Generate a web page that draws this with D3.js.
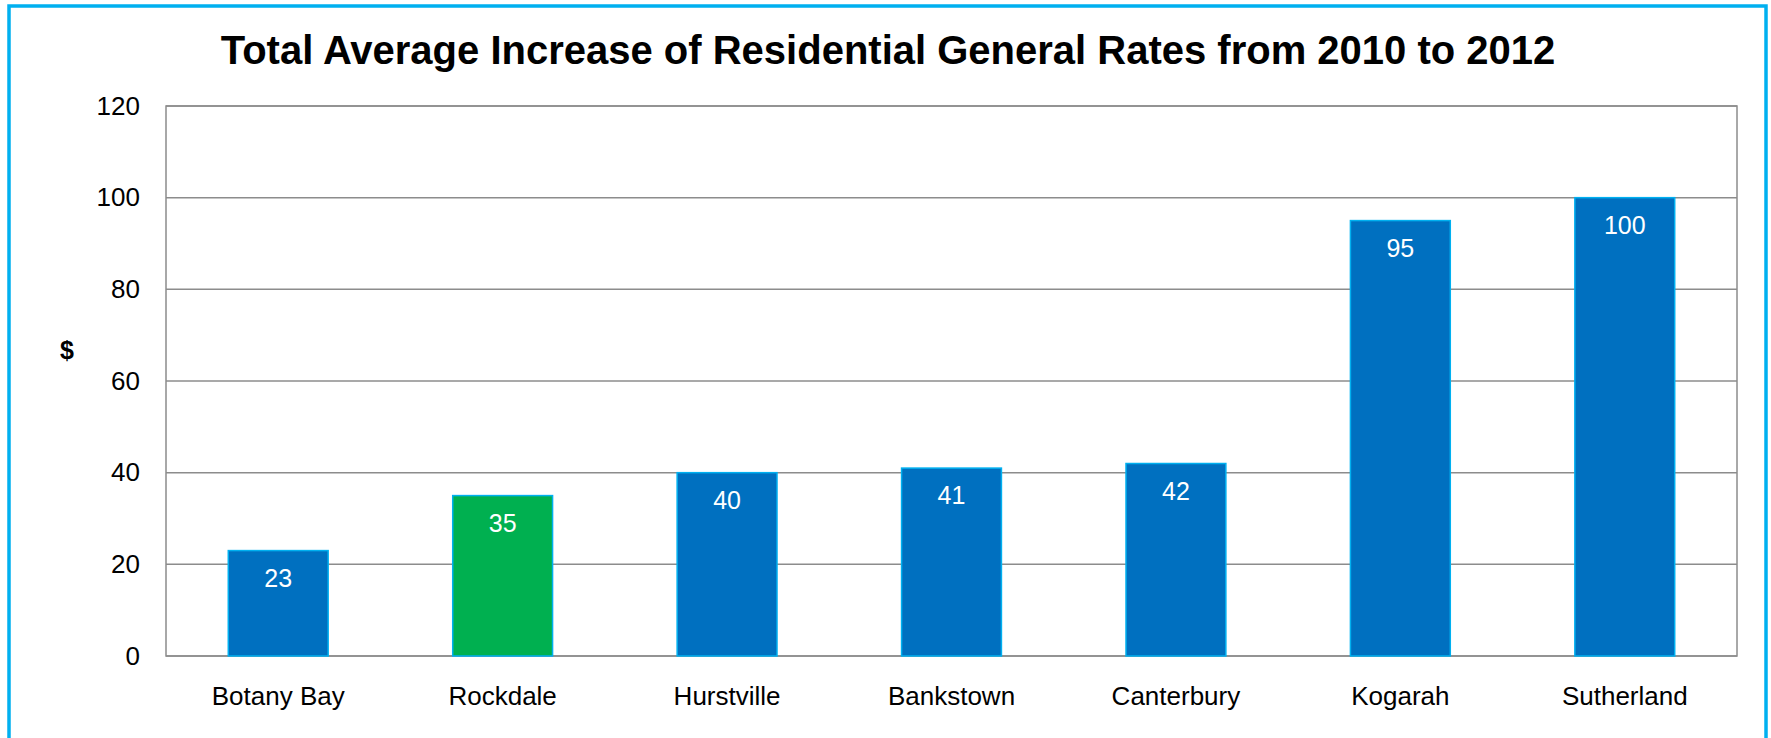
<!DOCTYPE html>
<html>
<head>
<meta charset="utf-8">
<script src="https://cdn.jsdelivr.net/npm/d3@7"></script>
<style>
  body { margin: 0; background: #fff; }
  svg { display: block; font-family: "Liberation Sans", Arial, sans-serif; }
</style>
</head>
<body>
<div id="chart"></div>
<script>
// chart data
var councils = ["Botany Bay", "Rockdale", "Hurstville", "Bankstown", "Canterbury", "Kogarah", "Sutherland"];
var increase = [23, 35, 40, 41, 42, 95, 100];
var highlight = "Rockdale";
var yTicks = [0, 20, 40, 60, 80, 100, 120];

var W = 1771, H = 738;
// plot area edges (note: "top" is reserved on window, so prefix them)
var plotLeft = 166, plotRight = 1737, plotTop = 106, plotBottom = 656;

var svg = d3.select("#chart").append("svg")
  .attr("width", W).attr("height", H);

// outer blue frame
svg.append("rect")
  .attr("x", 9).attr("y", 6)
  .attr("width", 1757).attr("height", 745)
  .attr("fill", "none").attr("stroke", "#00b0f0").attr("stroke-width", 3.5);

svg.append("text")
  .attr("x", 888).attr("y", 64)
  .attr("text-anchor", "middle")
  .attr("font-size", 40).attr("font-weight", "bold")
  .text("Total Average Increase of Residential General Rates from 2010 to 2012");

var x = d3.scaleBand().domain(councils).range([plotLeft, plotRight]).paddingInner(0.555).paddingOuter(0.2775);
var y = d3.scaleLinear().domain([0, 120]).range([plotBottom, plotTop]);

// gridlines
svg.append("g").selectAll("line")
  .data(yTicks).enter().append("line")
  .attr("x1", plotLeft).attr("x2", plotRight)
  .attr("y1", function(d) { return y(d); })
  .attr("y2", function(d) { return y(d); })
  .attr("stroke", "#8c8c8c").attr("stroke-width", 1.5);

// plot frame
svg.append("rect")
  .attr("x", plotLeft).attr("y", plotTop)
  .attr("width", plotRight - plotLeft).attr("height", plotBottom - plotTop)
  .attr("fill", "none").attr("stroke", "#8c8c8c").attr("stroke-width", 1.5);

// y axis labels
var yAxis = svg.append("g")
  .attr("transform", "translate(" + plotLeft + ",0)")
  .call(d3.axisLeft(y).tickValues(yTicks).tickSize(0).tickPadding(26));
yAxis.select(".domain").remove();
yAxis.selectAll("text")
  .attr("font-size", 26).attr("fill", "#000")
  .attr("font-family", "Liberation Sans, Arial, sans-serif");

svg.append("text")
  .attr("x", 67).attr("y", 359)
  .attr("text-anchor", "middle")
  .attr("font-size", 25).attr("font-weight", "bold")
  .text("$");

// x axis labels
var xAxis = svg.append("g")
  .attr("transform", "translate(0," + plotBottom + ")")
  .call(d3.axisBottom(x).tickSize(0).tickPadding(31));
xAxis.select(".domain").remove();
xAxis.selectAll("text")
  .attr("font-size", 26).attr("fill", "#000")
  .attr("font-family", "Liberation Sans, Arial, sans-serif");

var data = councils.map(function(c, i) { return { name: c, value: increase[i] }; });

svg.selectAll(".bar")
  .data(data).enter().append("rect")
  .attr("class", "bar")
  .attr("x", function(d) { return x(d.name); })
  .attr("y", function(d) { return y(d.value); })
  .attr("width", x.bandwidth())
  .attr("height", function(d) { return plotBottom - y(d.value); })
  .attr("fill", function(d) { return d.name === highlight ? "#00b050" : "#0070c0"; })
  .attr("stroke", "#00b0f0").attr("stroke-width", 1.5);

svg.selectAll(".val")
  .data(data).enter().append("text")
  .attr("class", "val")
  .attr("x", function(d) { return x(d.name) + x.bandwidth() / 2; })
  .attr("y", function(d) { return y(d.value) + 36; })
  .attr("text-anchor", "middle")
  .attr("font-size", 25).attr("fill", "#fff")
  .text(function(d) { return d.value; });
</script>
</body>
</html>
